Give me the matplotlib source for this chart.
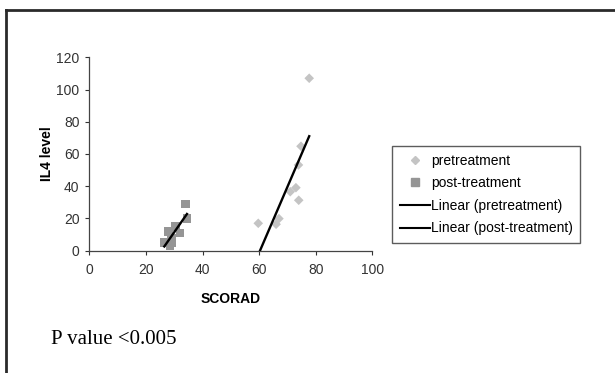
import numpy as np
import matplotlib
matplotlib.use("Agg")
import matplotlib.pyplot as plt
from matplotlib.lines import Line2D

# SCORAD vs IL4 level
pre_scorad = [59.7, 66.0, 67.0, 71.0, 73.0, 73.9, 74.0, 74.8, 77.7]
pre_il4 = [17.0, 16.4, 19.9, 36.6, 39.1, 53.2, 31.3, 64.8, 107.0]
post_scorad = [26.5, 28.0, 28.5, 29.0, 29.0, 30.5, 32.0, 34.0, 34.5]
post_il4 = [5.0, 12.0, 3.0, 5.0, 8.0, 15.0, 11.0, 29.0, 20.0]

x_ticks = [0, 20, 40, 60, 80, 100]
y_ticks = [0, 20, 40, 60, 80, 100, 120]

plt.rcParams['font.family'] = ['Liberation Sans', 'DejaVu Sans']

fig = plt.figure(figsize=(6.15, 3.73), dpi=100)
ax = fig.add_axes([0.1452, 0.3279, 0.4602, 0.5185])

# outer frame (top and left visible, runs off the right/bottom edge)
fig.add_artist(Line2D([6 / 615, 1.0], [1 - 10 / 373, 1 - 10 / 373],
                      transform=fig.transFigure, color="#2a2a2a", lw=2))
fig.add_artist(Line2D([6 / 615, 6 / 615], [0.0, 1 - 10 / 373],
                      transform=fig.transFigure, color="#2a2a2a", lw=2))

ax.scatter(pre_scorad, pre_il4, marker="D", s=24, color="#c4c4c4",
           edgecolors="none", zorder=2)
ax.scatter(post_scorad, post_il4, marker="s", s=38, color="#959595",
           edgecolors="none", zorder=2)

# linear trend lines
for xs, ys in [(pre_scorad, pre_il4), (post_scorad, post_il4)]:
    k, b = np.polyfit(xs, ys, 1)
    xx = np.array([min(xs), max(xs)])
    ax.plot(xx, k * xx + b, color="black", lw=1.7, zorder=3)

ax.set_xlim(0, 100)
ax.set_ylim(0, 120)
ax.set_xticks(x_ticks)
ax.set_yticks(y_ticks)
ax.tick_params(direction="out", length=3, width=0.8, labelsize=10,
               colors="#333333", pad=4)
ax.tick_params(axis="x", pad=6)
for s in ["top", "right"]:
    ax.spines[s].set_visible(False)
for s in ["left", "bottom"]:
    ax.spines[s].set_color("#444444")
    ax.spines[s].set_linewidth(0.9)

ax.set_xlabel("SCORAD", fontsize=10, fontweight="bold", labelpad=11)
ax.set_ylabel("IL4 level", fontsize=10, fontweight="bold", labelpad=2)

handles = [
    Line2D([], [], marker="D", ls="none", color="#c4c4c4", markersize=4.5),
    Line2D([], [], marker="s", ls="none", color="#959595", markersize=5.5),
    Line2D([], [], color="black", lw=1.5),
    Line2D([], [], color="black", lw=1.5),
]
labels = ["pretreatment", "post-treatment", "Linear (pretreatment)",
          "Linear (post-treatment)"]
leg = fig.legend(handles, labels, loc="upper left",
                 bbox_to_anchor=(392 / 615, 1 - 146 / 373), fontsize=10,
                 frameon=True, fancybox=False, handlelength=2.2,
                 handletextpad=0.05, borderpad=0.55, labelspacing=0.62,
                 borderaxespad=0)
leg.get_frame().set_edgecolor("#333333")
leg.get_frame().set_linewidth(1.0)

fig.text(51 / 615, 1 - 340 / 373, "P value <0.005", fontsize=15,
         family=["Liberation Serif", "DejaVu Serif"], va="center", ha="left")

fig.savefig("out.png", dpi=100)
